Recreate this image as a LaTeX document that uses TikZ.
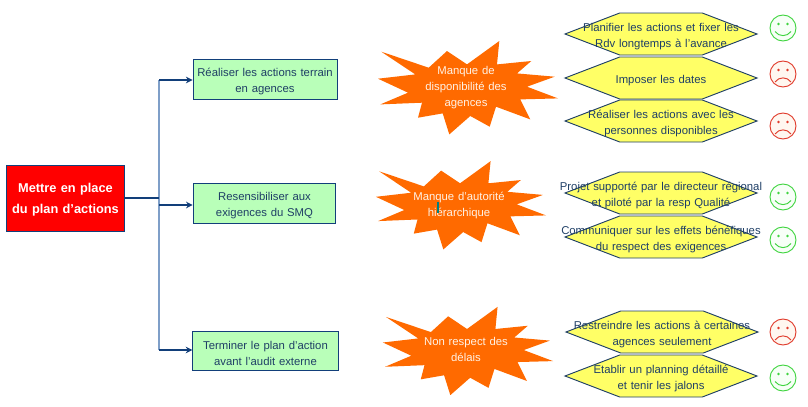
\documentclass[tikz,border=0pt]{standalone}
\usepackage{fontspec}
\setmainfont[WordSpace=1.2]{Liberation Sans}
\usetikzlibrary{arrows.meta,shapes.symbols}
\definecolor{navy}{HTML}{123F7A}
\definecolor{trunkblue}{HTML}{7F9FC8}
\definecolor{inkblue}{HTML}{1F3F66}
\definecolor{paleyellow}{HTML}{FFFF66}
\definecolor{palegreen}{HTML}{B9FFB9}
\definecolor{burstorange}{HTML}{FF6A00}
\definecolor{smilegreen}{HTML}{3FD43F}
\definecolor{frownred}{HTML}{E03A2A}
\tikzset{
	rootbox/.style={draw=navy,line width=.8pt,fill=red,minimum width=89pt,minimum height=50pt,inner sep=0pt},
	roottext/.style={text=white,font=\fontsize{9.6}{16}\selectfont\bfseries,align=center,inner sep=0pt,yshift=-1pt},
	taskbox/.style={draw=navy,line width=.7pt,fill=palegreen,minimum height=29.5pt,inner sep=0pt},
	hexa/.style={signal,signal to=east and west,signal pointer angle=42,draw=inkblue,line width=.7pt,fill=paleyellow,minimum width=144pt,minimum height=31.5pt,inner sep=0pt,outer sep=0pt},
	bluetext/.style={text=inkblue,font=\fontsize{8.5}{12}\selectfont,align=center,inner sep=0pt,yshift=-1.5pt},
	hextext/.style={bluetext,yshift=-.7pt},
	bursttext/.style={text=white!90!orange,font=\fontsize{8.5}{12}\selectfont,align=center,inner sep=0pt,yshift=-1pt},
	link/.style={draw=navy,line width=.8pt},
	linkarrow/.style={link,-{Stealth[length=5pt,width=5pt]}},
	burst/.pic={
		\fill[burstorange] (-86.7,-36)--(-39.3,-20)--(-21,-36.7)--(-1,-23.3)--(31.3,-46.7)--(29,-23.3)--(63.3,-26.7)--(49,-14.3)--(86.7,-11)--(59,-1)--(90,10.7)--(52.3,11.7)--(62.3,31.7)--(28,19)--(21.7,39)--(2.3,28.3)--(-18.7,46.7)--(-25.3,25.7)--(-50,30)--(-46,15)--(-87.7,16.7)--(-60,5)--(-90,-9)--(-52.7,-13.3)--cycle;
	},
	smile/.pic={
		\draw[smilegreen,fill=white!97!green,line width=.7pt] (0,0) circle (13);
		\fill[smilegreen] (-4.5,-4) circle (1.3) (4.5,-4) circle (1.3);
		\draw[smilegreen,line width=.7pt] (-8,3.5) .. controls (-4,9) and (4,9) .. (8,3.5);
	},
	frown/.pic={
		\draw[frownred,fill=orange!6,line width=.7pt] (0,0) circle (13);
		\fill[frownred] (-4.5,-4) circle (1.3) (4.5,-4) circle (1.3);
		\draw[frownred,line width=.7pt] (-8,8) .. controls (-4,2.5) and (4,2.5) .. (8,8);
	},
}
\begin{document}
\begin{tikzpicture}[x=.75pt,y=-.75pt]
	\useasboundingbox (0,0) rectangle (808,407);

	\node[rootbox] (root) at (65.5,198.5) {};
	\node[taskbox,minimum width=108pt] (taskA) at (265,79.5) {};
	\node[taskbox,minimum width=107pt] (taskB) at (264.5,203.5) {};
	\node[taskbox,minimum width=109pt] (taskC) at (265.5,351) {};
	\node[roottext] at (root) {Mettre en place\\du plan d’actions};
	\node[bluetext] at (taskA) {Réaliser les actions terrain\\en agences};
	\node[bluetext] at (taskB) {Resensibiliser aux\\exigences du SMQ};
	\node[bluetext] at (taskC) {Terminer le plan d’action\\avant l’audit externe};

	\coordinate (trunkA) at (159,80);
	\coordinate (trunkR) at (159,198);
	\coordinate (trunkB) at (159,205);
	\coordinate (trunkC) at (159,350);

	\draw[trunkblue,line width=1.5pt] (trunkA)--(trunkC);
	\draw[link] (root.east|-trunkR)--(trunkR);
	\draw[linkarrow] (trunkA)--(taskA.west|-trunkA);
	\draw[linkarrow] (trunkB)--(taskB.west|-trunkB);
	\draw[linkarrow] (trunkC)--(taskC.west|-trunkC);

	\pic at (468,87.7) {burst};
	\pic[scale=.945] at (461,205.3) {burst};
	\pic[scale=.945] at (468,351) {burst};
	\node[bursttext] (causeA) at (466,86) {Manque de\\disponibilité  des\\agences};
	\node[bursttext] (causeB) at (459,204) {Manque d’autorité\\hiérarchique};
	\node[bursttext] (causeC) at (466,348) {Non respect des\\délais};
	\draw[teal,line width=.8pt] (438,202)--(438,213);

	\node[hexa] (hexA) at (661,34) {};
	\node[hexa] (hexB) at (661,78) {};
	\node[hexa] (hexC) at (661,121) {};
	\node[hexa] (hexD) at (661,193) {};
	\node[hexa] (hexE) at (661,237) {};
	\node[hexa] (hexF) at (662,332) {};
	\node[hexa] (hexG) at (661,376) {};

	\node[hextext] at (hexA) {Planifier les actions et fixer les\\Rdv longtemps à l’avance};
	\node[hextext] at (hexB) {Imposer les dates};
	\node[hextext] at (hexC) {Réaliser les actions avec les\\personnes disponibles};
	\node[hextext] at (hexD) {Projet supporté par le directeur régional\\et piloté par la resp Qualité};
	\node[hextext] at (hexE) {Communiquer sur les effets bénéfiques\\du respect des exigences};
	\node[hextext] at (hexF) {Restreindre les actions à certaines\\agences seulement};
	\node[hextext] at (hexG) {Etablir un planning détaillé\\et tenir les jalons};

	\pic at (783,28) {smile};
	\pic at (783,74) {frown};
	\pic at (783,126) {frown};
	\pic at (783,197) {smile};
	\pic at (783,240) {smile};
	\pic at (783,332) {frown};
	\pic at (783,378) {smile};
\end{tikzpicture}
\end{document}
